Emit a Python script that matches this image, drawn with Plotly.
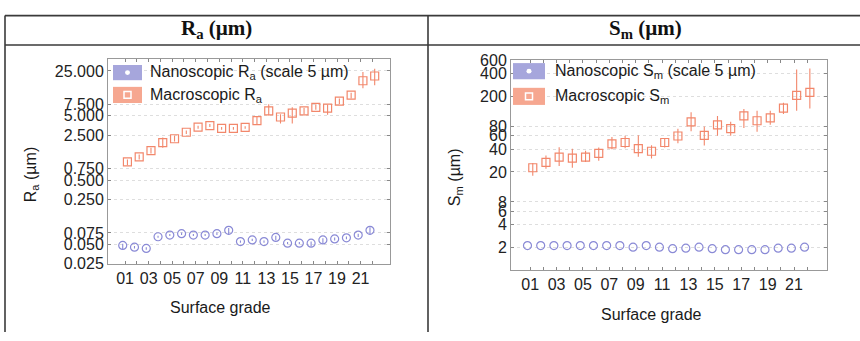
import numpy as np
import plotly.graph_objects as go

W, H = 860, 341

grades = list(range(1, 23))
label_grades = [g for g in grades if g % 2 == 1]
grade_labels = ["%02d" % g for g in label_grades]

# Ra (µm)
ra_macro = [0.96, 1.15, 1.44, 1.92, 2.2, 2.78, 3.33, 3.53, 3.2, 3.2, 3.3, 4.2, 6.0, 4.8, 5.5, 6.0, 6.8, 6.6, 8.5, 10.5, 17.6, 20.9]
ra_macro_lo = [0.85, 1.05, 1.3, 1.6, 2.0, 2.6, 3.15, 3.35, 3.05, 3.05, 3.15, 3.7, 5.1, 3.8, 3.8, 5.3, 6.2, 5.2, 7.6, 9.3, 13.5, 15.0]
ra_macro_hi = [1.05, 1.25, 1.6, 2.3, 2.45, 2.95, 3.5, 3.75, 3.35, 3.35, 3.45, 4.8, 7.6, 5.3, 6.8, 6.6, 7.6, 7.5, 9.3, 11.5, 24.0, 27.0]
ra_nano = [0.048, 0.045, 0.043, 0.0655, 0.0695, 0.073, 0.0695, 0.0695, 0.073, 0.0825, 0.055, 0.0585, 0.055, 0.064, 0.052, 0.052, 0.052, 0.0585, 0.0605, 0.063, 0.0695, 0.0825]
ra_nano_lo = [0.041, 0.043, 0.041, 0.063, 0.067, 0.07, 0.067, 0.067, 0.07, 0.07, 0.053, 0.056, 0.053, 0.058, 0.05, 0.05, 0.046, 0.051, 0.057, 0.06, 0.065, 0.071]
ra_nano_hi = [0.051, 0.047, 0.045, 0.068, 0.072, 0.076, 0.072, 0.072, 0.076, 0.09, 0.057, 0.061, 0.057, 0.068, 0.054, 0.054, 0.055, 0.062, 0.064, 0.066, 0.073, 0.092]

# Sm (µm)
sm_macro = [22.7, 26.7, 31.3, 30.4, 31.3, 35.1, 47, 49, 40.6, 37.5, 49, 59.7, 92, 61, 84, 74.6, 110, 95, 104, 140, 206, 226]
sm_macro_lo = [17.8, 22, 24, 22.7, 27, 28, 40, 41, 31.8, 30, 42, 47.7, 69, 44.6, 60, 60, 76, 68, 84, 117, 129, 138]
sm_macro_hi = [26.2, 33, 42.5, 40.6, 38, 42, 58, 60, 61, 45, 56, 74.6, 123, 80, 110, 92, 136, 129, 129, 165, 454, 468]
sm_nano = [2.12, 2.12, 2.12, 2.12, 2.12, 2.12, 2.12, 2.12, 2.02, 2.12, 2.02, 1.93, 1.96, 2.02, 1.93, 1.87, 1.87, 1.87, 1.87, 1.96, 1.96, 2.02]

ra_ticks = [0.025, 0.05, 0.075, 0.25, 0.5, 0.75, 2.5, 5, 7.5, 25]
ra_ticktext = ["%.3f" % v for v in ra_ticks]
sm_ticks = [2, 4, 6, 8, 20, 40, 60, 80, 200, 400, 600]
sm_ticktext = [str(v) for v in sm_ticks]

ORANGE = "#f2876b"
PURPLE = "#8a8ad6"
SW_ORANGE = "#f6a790"
SW_PURPLE = "#a6a6dc"
FONT = "Liberation Sans, Arial, sans-serif"


def px(x):
    return x / W


def py(y):
    return 1 - y / H


fig = go.Figure()
g = np.array(grades, dtype=float)


def add_series(x, y, lo, hi, sym, color, xa, ya):
    y = np.array(y, dtype=float)
    err = None
    if lo is not None:
        lo = np.array(lo, dtype=float)
        hi = np.array(hi, dtype=float)
        err = dict(type="data", symmetric=False, array=hi - y, arrayminus=y - lo,
                   color=color, thickness=1.1, width=0)
    fig.add_trace(go.Scatter(
        x=x, y=y, mode="markers", xaxis=xa, yaxis=ya, showlegend=False,
        marker=dict(symbol=sym, size=8, color=color, line=dict(width=1.2, color=color)),
        error_y=err))


add_series(g - 0.2, ra_nano, ra_nano_lo, ra_nano_hi, "circle-open", PURPLE, "x", "y")
add_series(g + 0.2, ra_macro, ra_macro_lo, ra_macro_hi, "square-open", ORANGE, "x", "y")
add_series(g - 0.2, sm_nano, None, None, "circle-open", PURPLE, "x2", "y2")
add_series(g + 0.2, sm_macro, sm_macro_lo, sm_macro_hi, "square-open", ORANGE, "x2", "y2")

xcommon = dict(range=[-0.45, 23.5], tickmode="array", tickvals=label_grades, ticktext=grade_labels,
               ticks="inside", ticklen=3, tickcolor="#888", showline=True, linecolor="#999",
               linewidth=1, mirror="ticks", showgrid=False, zeroline=False,
               minor=dict(tickmode="array", tickvals=grades, ticks="inside", ticklen=3,
                          tickcolor="#888", showgrid=False),
               tickfont=dict(family=FONT, size=16, color="#222"))
ycommon = dict(type="log", tickmode="array", ticks="inside", ticklen=3, tickcolor="#888",
               showline=True, linecolor="#999", linewidth=1, mirror="ticks",
               showgrid=True, gridcolor="#dedede", griddash="dot", gridwidth=1, zeroline=False,
               tickfont=dict(family=FONT, size=16, color="#222"))

fig.update_layout(
    width=W, height=H, margin=dict(l=0, r=0, t=0, b=0),
    paper_bgcolor="white", plot_bgcolor="white",
    xaxis=dict(domain=[px(108), px(390)], anchor="y", **xcommon),
    yaxis=dict(domain=[py(269), py(54)], anchor="x",
               range=[np.log10(0.025), np.log10(38)],
               tickvals=ra_ticks, ticktext=ra_ticktext, **ycommon),
    xaxis2=dict(domain=[px(511), px(827)], anchor="y2", **xcommon),
    yaxis2=dict(domain=[py(276), py(55)], anchor="x2",
                range=[0, np.log10(600)],
                tickvals=sm_ticks, ticktext=sm_ticktext, **ycommon),
)

shapes = []
# table frame
line = dict(color="#3a3a3a", width=1.6)
shapes.append(dict(type="line", xref="paper", yref="paper", x0=px(5), x1=1, y0=py(8), y1=py(8), line=line))
shapes.append(dict(type="line", xref="paper", yref="paper", x0=px(5), x1=1, y0=py(39), y1=py(39), line=line))
shapes.append(dict(type="line", xref="paper", yref="paper", x0=px(5), x1=px(5), y0=py(8), y1=0, line=line))
shapes.append(dict(type="line", xref="paper", yref="paper", x0=px(428), x1=px(428), y0=py(8), y1=0, line=line))


def legend(x0, x1, rows):
    for (y0, y1, fill, kind) in rows:
        shapes.append(dict(type="rect", xref="paper", yref="paper", x0=px(x0), x1=px(x1),
                           y0=py(y1), y1=py(y0), fillcolor=fill, line=dict(width=0)))
        cx = (x0 + x1) / 2
        cy = (y0 + y1) / 2
        if kind == "circle":
            shapes.append(dict(type="circle", xref="paper", yref="paper", x0=px(cx - 2.5), x1=px(cx + 2.5),
                               y0=py(cy + 2.5), y1=py(cy - 2.5), fillcolor="white", line=dict(width=0)))
        else:
            shapes.append(dict(type="rect", xref="paper", yref="paper", x0=px(cx - 3.5), x1=px(cx + 3.5),
                               y0=py(cy + 3.5), y1=py(cy - 3.5), fillcolor=fill,
                               line=dict(width=1.5, color="white")))


legend(113, 142, [(60, 76, SW_PURPLE, "circle"), (83, 100, SW_ORANGE, "square")])
legend(513, 545, [(58, 75, SW_PURPLE, "circle"), (84, 102, SW_ORANGE, "square")])

ann = []


def text(x, y, s, size=16, xanchor="left", angle=0, family=FONT, color="#1a1a1a"):
    ann.append(dict(x=px(x), y=py(y), xref="paper", yref="paper", text=s, showarrow=False,
                    xanchor=xanchor, yanchor="middle", textangle=angle,
                    font=dict(family=family, size=size, color=color)))


text(148, 68, "Nanoscopic R<sub>a</sub> (scale 5 µm)")
text(148, 92, "Macroscopic R<sub>a</sub>")
text(553, 67, "Nanoscopic S<sub>m</sub> (scale 5 µm)")
text(553, 93, "Macroscopic S<sub>m</sub>")

text(220, 315, "Surface grade", xanchor="center")
text(651, 323, "Surface grade", xanchor="center")
text(31, 176, "R<sub>a</sub> (µm)", xanchor="center", angle=-90)
text(455, 178, "S<sub>m</sub> (µm)", xanchor="center", angle=-90)

SERIF = "Liberation Serif, Times New Roman, serif"
text(216, 22, "<b>R<sub>a</sub> (µm)</b>", size=21, xanchor="center", family=SERIF, color="#111")
text(645, 22, "<b>S<sub>m</sub> (µm)</b>", size=21, xanchor="center", family=SERIF, color="#111")

fig.update_layout(shapes=shapes, annotations=ann)
fig.write_html("out.html",
               post_script="document.body.style.margin='0px';document.body.style.overflow='hidden';")
